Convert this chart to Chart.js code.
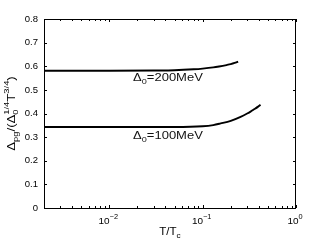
<!DOCTYPE html>
<html><head><meta charset="utf-8">
<script src="https://cdn.jsdelivr.net/npm/chart.js@4/dist/chart.umd.min.js"></script>
<style>html,body{margin:0;padding:0;background:#fff}#wrap{width:327px;height:246px}</style>
</head><body><div id="wrap"><canvas id="c" width="327" height="246"></canvas></div>
<script>
// Data
const tHigh = [0.002, 0.01, 0.03, 0.05, 0.08, 0.1, 0.13, 0.15, 0.18, 0.2, 0.22, 0.24];
const gapHigh = [0.581, 0.581, 0.582, 0.583, 0.587, 0.590, 0.595, 0.599, 0.605, 0.609, 0.614, 0.620];
const tLow = [0.002, 0.01, 0.05, 0.1, 0.13, 0.156, 0.2, 0.255, 0.3, 0.326, 0.36, 0.39, 0.417];
const gapLow = [0.343, 0.343, 0.343, 0.346, 0.351, 0.358, 0.369, 0.386, 0.400, 0.408, 0.419, 0.428, 0.437];
const seriesLabels = ['Δ0=200MeV', 'Δ0=100MeV'];
const labelPosT = [0.018, 0.018];
const labelPosY = [0.538, 0.294];
const yTicks = [0, 0.1, 0.2, 0.3, 0.4, 0.5, 0.6, 0.7, 0.8];
const yTickLabels = ['0', '0.1', '0.2', '0.3', '0.4', '0.5', '0.6', '0.7', '0.8'];
const xMajorTicks = [0.01, 0.1, 1];
const xMajorExp = ['−2', '−1', '0'];
const xMin = 0.002, xMax = 1;

const FONT = "'Liberation Sans', Arial, Helvetica, sans-serif";

function pts(xs, ys) { return xs.map((x, i) => ({x: x, y: ys[i]})); }

function drawRich(ctx, parts, x, y, align, sx) {
  sx = sx || 1;
  let w = 0, pending = 0;
  const meas = parts.map(p => { ctx.font = p.s + 'px ' + FONT; return ctx.measureText(p.t).width; });
  parts.forEach((p, i) => {
    if (p.keep) { pending = meas[i]; }
    else { w += Math.max(meas[i], pending); pending = 0; }
  });
  ctx.save();
  ctx.translate(x, y);
  ctx.scale(sx, 1);
  let cx = align === 'center' ? -w / 2 : 0;
  pending = 0;
  parts.forEach((p, i) => {
    ctx.font = p.s + 'px ' + FONT;
    ctx.fillText(p.t, cx, (p.dy || 0));
    if (p.keep) { pending = meas[i]; }
    else { cx += Math.max(meas[i], pending); pending = 0; }
  });
  ctx.restore();
}

const decor = {
  id: 'decor',
  afterDraw(chart) {
    const ctx = chart.ctx, a = chart.chartArea;
    const xs = chart.scales.x, ys = chart.scales.y;
    ctx.save();
    ctx.strokeStyle = '#000'; ctx.lineWidth = 1;
    ctx.strokeRect(Math.round(a.left) + 0.5, Math.round(a.top) + 0.5, Math.round(a.right - a.left) - 1, Math.round(a.bottom - a.top));
    ctx.beginPath();
    yTicks.forEach(v => {
      const y = Math.round(ys.getPixelForValue(v)) + 0.5;
      ctx.moveTo(a.left, y); ctx.lineTo(a.left + 3, y);
      ctx.moveTo(a.right, y); ctx.lineTo(a.right - 3, y);
    });
    for (let e = -3; e <= 0; e++) {
      for (let m = 1; m <= 9; m++) {
        const v = m * Math.pow(10, e);
        if (v < xMin || v > xMax) continue;
        const x = Math.round(xs.getPixelForValue(v)) + 0.5;
        const len = m === 1 ? 3 : 2;
        ctx.moveTo(x, a.bottom); ctx.lineTo(x, a.bottom - len);
        ctx.moveTo(x, a.top); ctx.lineTo(x, a.top + len);
      }
    }
    ctx.stroke();
    ctx.fillStyle = '#000';
    ctx.textBaseline = 'alphabetic';
    ctx.textAlign = 'left';
    xMajorTicks.forEach((v, i) => {
      const x = xs.getPixelForValue(v);
      drawRich(ctx, [{t: '10', s: 9.5}, {t: xMajorExp[i], s: 7, dy: -5}], x - 1, 224, 'center', 1.05);
    });
    drawRich(ctx, [{t: 'T/T', s: 10.5}, {t: 'c', s: 7.5, dy: 3}], (a.left + a.right) / 2, 235, 'center', 1.1);
    // y title
    ctx.save();
    ctx.translate(14.5, 113.5);
    ctx.rotate(-Math.PI / 2);
    drawRich(ctx, [
      {t: 'Δ', s: 10.5}, {t: 'pg', s: 7.5, dy: 3}, {t: '/(Δ', s: 10.5},
      {t: '0', s: 7.5, dy: 3, keep: true}, {t: '1/4', s: 7.5, dy: -6},
      {t: 'T', s: 10.5}, {t: '3/4', s: 7.5, dy: -6}, {t: ')', s: 10.5}
    ], 0, 0, 'center', 1.25);
    ctx.restore();
    // series annotations
    ctx.fillStyle = '#111';
    seriesLabels.forEach((lab, i) => {
      const x = xs.getPixelForValue(labelPosT[i]);
      const y = ys.getPixelForValue(labelPosY[i]);
      drawRich(ctx, [{t: 'Δ', s: 10}, {t: '0', s: 7, dy: 3}, {t: lab.slice(2), s: 10}], x, y, 'left', 1.3);
    });
    ctx.restore();
  }
};

new Chart(document.getElementById('c'), {
  type: 'scatter',
  data: {
    datasets: [
      {data: pts(tHigh, gapHigh), showLine: true, borderColor: '#000', borderWidth: 1.9, pointRadius: 0, cubicInterpolationMode: 'monotone'},
      {data: pts(tLow, gapLow), showLine: true, borderColor: '#000', borderWidth: 1.9, pointRadius: 0, cubicInterpolationMode: 'monotone'}
    ]
  },
  options: {
    responsive: false, animation: false, devicePixelRatio: 1,
    layout: {padding: {left: 0, right: 31, top: 19, bottom: 0}},
    plugins: {legend: {display: false}, tooltip: {enabled: false}},
    scales: {
      x: {
        type: 'logarithmic', min: xMin, max: xMax,
        grid: {display: false}, border: {display: false},
        ticks: {display: false},
        afterFit(s) { s.height = 38; }
      },
      y: {
        min: 0, max: 0.8,
        afterBuildTicks(s) { s.ticks = yTicks.map(v => ({value: v})); },
        grid: {display: false, drawTicks: false}, border: {display: false},
        ticks: {
          color: '#000', padding: 6, font: {family: FONT, size: 9.5},
          callback: (v) => { const i = yTicks.indexOf(v); return i >= 0 ? yTickLabels[i] : ''; }
        },
        afterFit(s) { s.width = 44; }
      }
    }
  },
  plugins: [decor]
});
</script>
</body></html>
